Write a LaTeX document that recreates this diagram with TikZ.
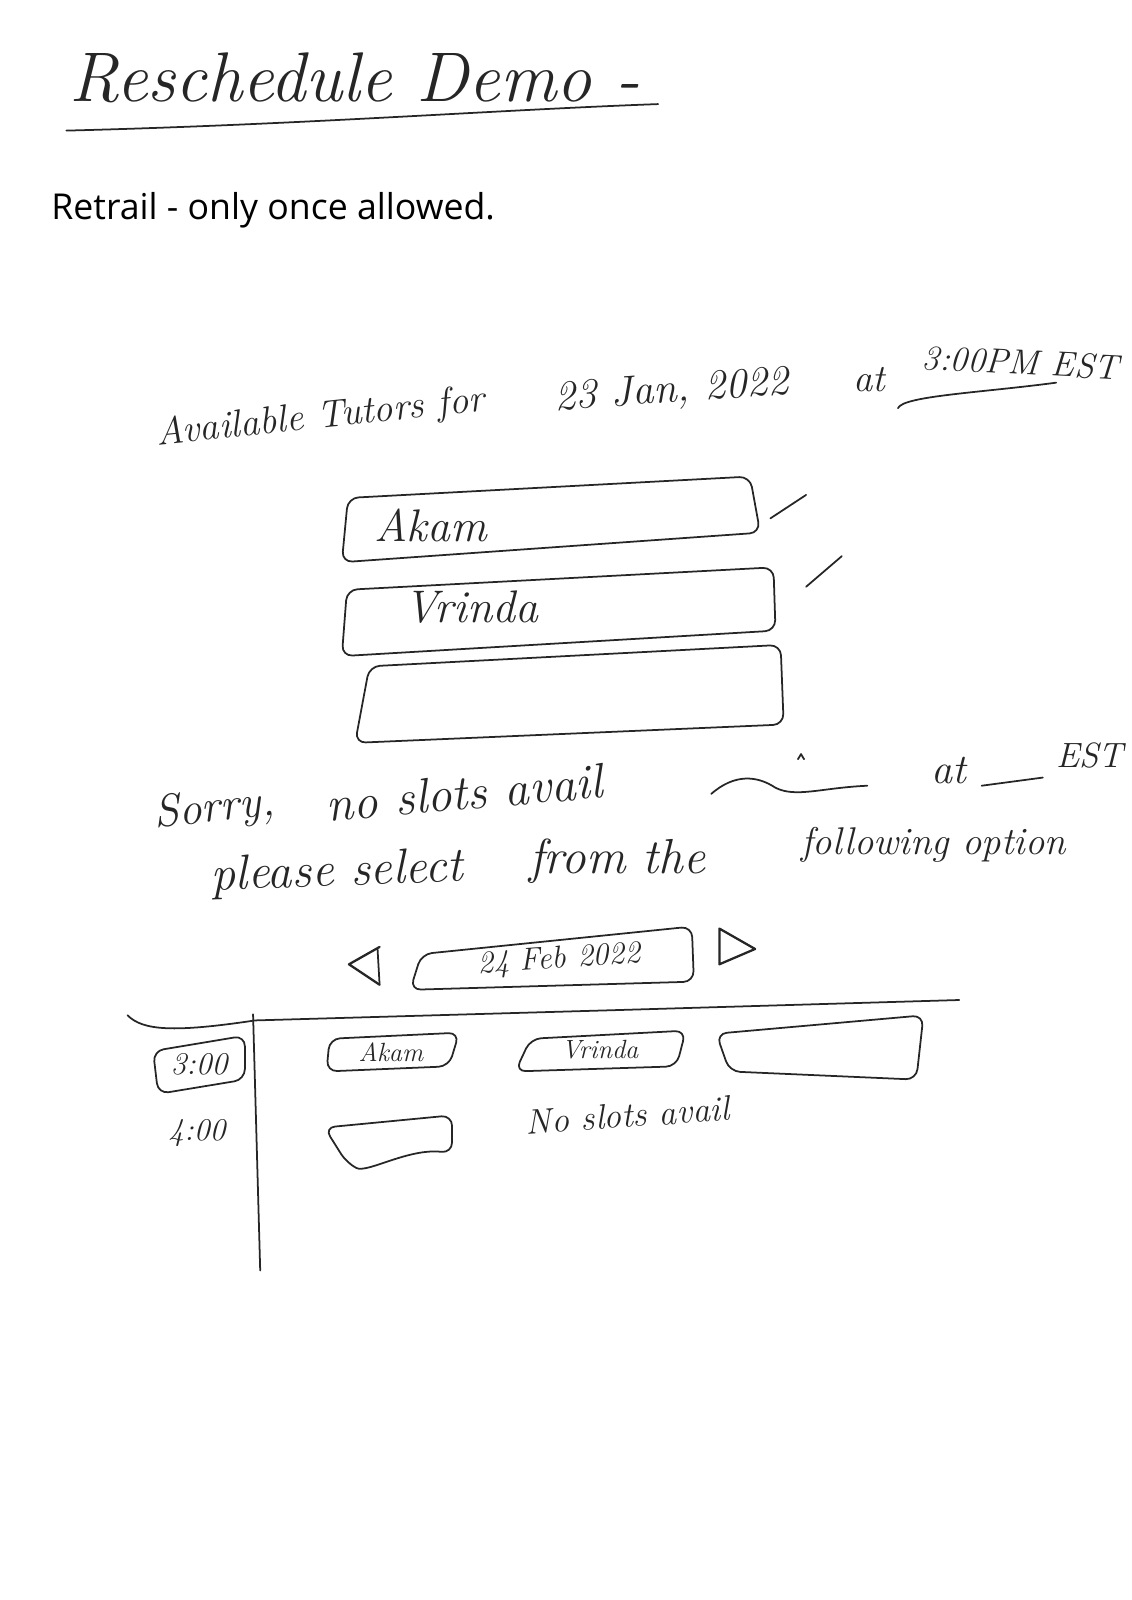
\documentclass[tikz,border=0pt]{standalone}
\usepackage{fontspec}
\newfontfamily\typedfont{Open Sans}
\usepackage{tikz}
\usetikzlibrary{positioning}

\tikzset{
	pen/.style={line width=1pt, line join=round, line cap=round, black!85},
	sketchbox/.style={pen, rounded corners=6pt},
	hand/.style={font=\itshape, black!85, inner sep=1pt},
}

\begin{document}
\begin{tikzpicture}[x=0.020415cm, y=-0.020415cm]
			\useasboundingbox (0,0) rectangle (1109,1568);
			
			%% Titel
			\node[hand, font=\fontsize{40}{44}\selectfont\itshape] (title) at (348,76) {Reschedule Demo -};
			\draw[pen] (65,128) .. controls (300,122) and (480,108) .. (645,102);
			
			%% Retrail
			\node[anchor=west, inner sep=0pt, font=\fontsize{20.3}{24}\selectfont\typedfont, black] (retrail) at (50,206) {Retrail - only once allowed.};
			
			%% Available tutors
			\node[hand, font=\fontsize{22}{26}\selectfont\itshape, rotate=6] (avail) at (314,410) {Available Tutors for};
			\node[hand, font=\fontsize{24}{28}\selectfont\itshape, rotate=4] (date) at (658,384) {23 Jan, 2022};
			\node[hand, font=\fontsize{22}{26}\selectfont\itshape] (at) at (852,372) {at};
			\node[hand, font=\fontsize{20}{24}\selectfont\itshape, rotate=-3] (time) at (1000,355) {3:00PM EST};
			\draw[pen] (880,400) .. controls (885,388) and (960,385) .. (1035,375);
			
			%% Tutor boxes
			\draw[sketchbox] (341,488) -- (735,467) -- (745,522) -- (335,551) -- cycle;
			\draw[sketchbox] (340,578) -- (758,556) -- (760,618) -- (335,643) -- cycle;
			\draw[sketchbox] (362,653) -- (765,632) -- (768,710) -- (348,728) -- cycle;
			\node[hand, font=\fontsize{26}{30}\selectfont\itshape] (tutorA) at (422,515) {Akam};
			\node[hand, font=\fontsize{26}{30}\selectfont\itshape] (tutorB) at (462,595) {Vrinda};
			
			%% Ticks
			\draw[pen] (755,508) -- (790,485);
			\draw[pen] (790,575) -- (825,545);
			
			%% Sorry
			\node[hand, font=\fontsize{26}{30}\selectfont\itshape, rotate=6] (sorry) at (210,794) {Sorry,};
			\node[hand, font=\fontsize{28}{32}\selectfont\itshape, rotate=5] (noslots) at (455,777) {no slots avail};
			\draw[pen] (697,778) .. controls (720,758) and (742,760) .. (760,772) .. controls (780,782) and (805,772) .. (850,770);
			\draw[pen] (782,744) -- (785,739) -- (788,744);
			\node[hand, font=\fontsize{24}{28}\selectfont\itshape] (at2) at (930,755) {at};
			\draw[pen] (962,770) -- (1022,762);
			\node[hand, font=\fontsize{20}{24}\selectfont\itshape] (est) at (1068,740) {EST};
			
			%% Please select
			\node[hand, font=\fontsize{28}{32}\selectfont\itshape, rotate=2] (please) at (330,856) {please select};
			\node[hand, font=\fontsize{28}{32}\selectfont\itshape] (fromthe) at (605,844) {from the};
			\node[hand, font=\fontsize{22}{26}\selectfont\itshape] (following) at (915,828) {following option};
			
			%% Date nav
			\draw[pen, line width=1.3pt] (372,928) -- (342,945) -- (372,965);
			\draw[pen] (370,930) -- (372,965);
			\draw[sketchbox] (413,935) -- (678,908) -- (680,962) -- (402,970) -- cycle;
			\node[hand, font=\fontsize{18}{22}\selectfont\itshape, rotate=4] (navdate) at (548,941) {24 Feb 2022};
			\draw[pen, line width=1.3pt] (705,910) -- (740,930) -- (705,945) -- cycle;
			
			%% Table
			\draw[pen] (125,995) .. controls (140,1010) and (170,1012) .. (250,1000) -- (600,990) -- (940,980);
			\draw[pen] (248,994) -- (255,1245);
			
			%% Slots
			\draw[sketchbox] (150,1030) -- (240,1015) -- (240,1058) -- (155,1072) -- cycle;
			\node[hand, font=\fontsize{18}{22}\selectfont\itshape] (slotA) at (195,1043) {3:00};
			\node[hand, font=\fontsize{18}{22}\selectfont\itshape] (slotB) at (193,1110) {4:00};
			
			\draw[sketchbox] (323,1018) -- (450,1012) -- (440,1045) -- (320,1050) -- cycle;
			\node[hand, font=\fontsize{15}{18}\selectfont\itshape] (cellA) at (383,1031) {Akam};
			\draw[sketchbox] (520,1018) -- (672,1010) -- (663,1045) -- (505,1050) -- cycle;
			\node[hand, font=\fontsize{15}{18}\selectfont\itshape] (cellB) at (588,1029) {Vrinda};
			\draw[sketchbox] (702,1013) -- (905,995) -- (898,1058) -- (715,1050) -- cycle;
			
			\draw[sketchbox] (318,1105) -- (443,1093) -- (443,1130) .. controls (400,1125) and (360,1150) .. (340,1140) -- cycle;
			\node[hand, font=\fontsize{20}{24}\selectfont\itshape, rotate=4] (noslots2) at (615,1093) {No slots avail};
		\end{tikzpicture}
\end{document}
